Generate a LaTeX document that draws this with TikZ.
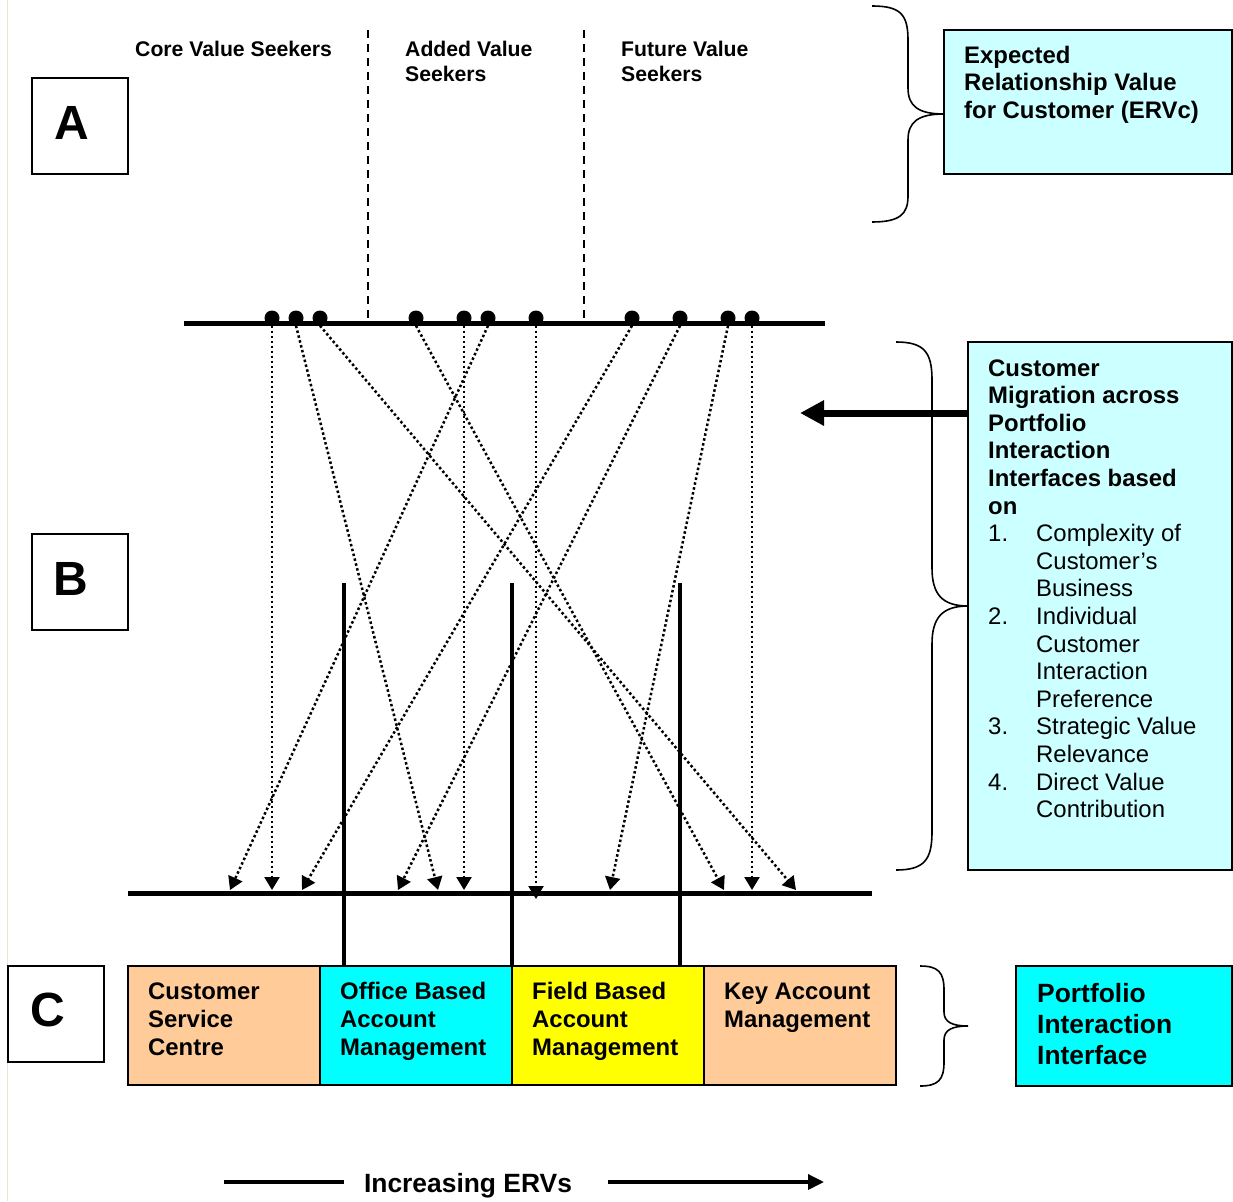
\documentclass[tikz,border=0pt]{standalone}
\usepackage{fontspec}
\setmainfont{Liberation Sans}
\usetikzlibrary{arrows.meta}
\definecolor{lcyan}{HTML}{CCFFFF}
\definecolor{ccyan}{HTML}{00FFFF}
\definecolor{corange}{HTML}{FFCC99}
\definecolor{cyellow}{HTML}{FFFF00}
\definecolor{edge}{HTML}{E8E8D0}
\begin{document}
\begin{tikzpicture}[x=1pt,y=-1pt,
  hdr/.style={anchor=base west,inner sep=0pt,font=\bfseries\fontsize{21.2}{25}\selectfont},
  btxt/.style={anchor=base west,inner sep=0pt,font=\bfseries\fontsize{23.9}{27.6}\selectfont},
  rtxt/.style={anchor=base west,inner sep=0pt,font=\fontsize{23.9}{27.6}\selectfont},
  ptxt/.style={anchor=base west,inner sep=0pt,font=\bfseries\fontsize{26.4}{31}\selectfont},
  letter/.style={anchor=base,inner sep=0pt,font=\bfseries\fontsize{48}{50}\selectfont},
  framebox/.style={draw=black,line width=1.6pt},
  dot/.style={circle,fill=black,inner sep=0pt,minimum size=15pt},
  mig/.style={line width=2.5pt,dash pattern=on 2.5pt off 2.5pt,-{Triangle[length=13pt,width=15pt]}},
  bar/.style={line width=5pt},
  brace/.style={line width=1.6pt},
  sep/.style={line width=1.6pt,dash pattern=on 8pt off 6pt}]
\useasboundingbox (0,0) rectangle (1233,1201);
\fill[white] (0,0) rectangle (1233,1201);
\draw[edge,line width=1pt] (7,0) -- (7,1201);

% section boxes
\draw[framebox] (32,78) rectangle (128,174);
\node[letter] (A) at (72,140) {A};
\draw[framebox] (32,534) rectangle (128,630);
\node[letter] (B) at (71,595) {B};
\draw[framebox] (8,966) rectangle (104,1062);
\node[letter] (C) at (48,1026) {C};

% headers
\node[hdr] (h1) at (135,56.5) {Core Value Seekers};
\node[hdr] (h2a) at (405,56.5) {Added Value};
\node[hdr] (h2b) at (405,81.5) {Seekers};
\node[hdr] (h3a) at (621,56.5) {Future Value};
\node[hdr] (h3b) at (621,81.5) {Seekers};
\draw[sep] (368,30) -- (368,318);
\draw[sep] (584,30) -- (584,318);

% ERVc box
\draw[framebox,fill=lcyan] (944,30) rectangle (1232,174);
\foreach \t [count=\i] in {Expected,Relationship Value,for Customer (ERVc)}
  \node[btxt] (e\i) at (964,{63.5+(\i-1)*27.5}) {\t};
\draw[brace] (872,6) .. controls (900,6) and (908,14) .. (908,40) -- (908,88)
  .. controls (908,106) and (918,114) .. (944,114)
  .. controls (918,114) and (908,122) .. (908,140) -- (908,196)
  .. controls (908,214) and (900,222) .. (872,222);

% migration box
\draw[framebox,fill=lcyan] (968,342) rectangle (1232,870);
\foreach \t [count=\i] in {Customer,Migration across,Portfolio,Interaction,Interfaces based,on}
  \node[btxt] (m\i) at (988,{376+(\i-1)*27.6}) {\t};
\foreach \n/\r in {1/6,2/9,3/13,4/15}
  \node[rtxt] (n\n) at (988,{376+\r*27.6}) {\n.};
\foreach \t [count=\i] in {Complexity of,Customer’s,Business,Individual,Customer,Interaction,Preference,Strategic Value,Relevance,Direct Value,Contribution}
  \node[rtxt] (l\i) at (1036,{376+(\i+5)*27.6}) {\t};
\draw[brace] (896,342) .. controls (924,342) and (932,352) .. (932,380) -- (932,568)
  .. controls (932,594) and (942,606) .. (968,606)
  .. controls (942,606) and (932,618) .. (932,644) -- (932,832)
  .. controls (932,860) and (924,870) .. (896,870);
\coordinate (arrS) at (968,413);
\coordinate (arrE) at (800,413);
\draw[line width=7pt,-{Triangle[length=24pt,width=24pt]}] (arrS) -- (arrE);

% top line with dots
\coordinate (tl) at (184,323);
\coordinate (tr) at (825,323);
\foreach \x [count=\i] in {272,296,320,416,464,488,536,632,680,728,752}
  \node[dot] (t\i) at (\x,318) {};
\draw[bar] (tl) -- (tr);

% bottom targets
\foreach \x [count=\i] in {230,272,302,398,438,464,610,724,752,796}
  \coordinate (b\i) at (\x,890);
\coordinate (bmid) at (536,899);

\draw[mig] (t1.south) -- (b2);
\draw[mig] (t2.south) -- (b5);
\draw[mig] (t3.south) -- (b10);
\draw[mig] (t4.south) -- (b8);
\draw[mig] (t5.south) -- (b6);
\draw[mig] (t6.south) -- (b1);
\draw[mig] (t7.south) -- (bmid);
\draw[mig] (t8.south) -- (b3);
\draw[mig] (t9.south) -- (b4);
\draw[mig] (t10.south) -- (b7);
\draw[mig] (t11.south) -- (b9);

% bottom line and dividers
\coordinate (bl) at (128,893);
\coordinate (br) at (872,893);
\draw[bar] (bl) -- (br);
\foreach \x [count=\i] in {344,512,680} {
  \coordinate (v\i t) at (\x,583);
  \coordinate (v\i b) at (\x,966);
  \draw[line width=4.5pt] (v\i t) -- (v\i b);
}

% portfolio boxes
\draw[framebox,fill=corange] (128,966) rectangle (320,1085);
\draw[framebox,fill=ccyan] (320,966) rectangle (512,1085);
\draw[framebox,fill=cyellow] (512,966) rectangle (704,1085);
\draw[framebox,fill=corange] (704,966) rectangle (896,1085);
\foreach \t [count=\i] in {Customer,Service,Centre}
  \node[btxt] (c1\i) at (148,{999.5+(\i-1)*28}) {\t};
\foreach \t [count=\i] in {Office Based,Account,Management}
  \node[btxt] (c2\i) at (340,{999.5+(\i-1)*28}) {\t};
\foreach \t [count=\i] in {Field Based,Account,Management}
  \node[btxt] (c3\i) at (532,{999.5+(\i-1)*28}) {\t};
\foreach \t [count=\i] in {Key Account,Management}
  \node[btxt] (c4\i) at (724,{999.5+(\i-1)*28}) {\t};

\draw[brace] (920,966) .. controls (938,966) and (944,972) .. (944,990) -- (944,1012)
  .. controls (944,1022) and (952,1026) .. (968,1026)
  .. controls (952,1026) and (944,1030) .. (944,1040) -- (944,1062)
  .. controls (944,1080) and (938,1086) .. (920,1086);

\draw[framebox,fill=ccyan] (1016,966) rectangle (1232,1086);
\foreach \t [count=\i] in {Portfolio,Interaction,Interface}
  \node[ptxt] (p\i) at (1037,{1002.5+(\i-1)*31}) {\t};

% increasing ERVs
\node[ptxt,anchor=base] (inc) at (468,1192.5) {Increasing ERVs};
\coordinate (i1) at (224,1182);
\coordinate (i2) at (344,1182);
\coordinate (i3) at (608,1182);
\coordinate (i4) at (824,1182);
\draw[line width=3.5pt] (i1) -- (i2);
\draw[line width=3.5pt,-{Triangle[length=16pt,width=15pt]}] (i3) -- (i4);
\end{tikzpicture}
\end{document}
